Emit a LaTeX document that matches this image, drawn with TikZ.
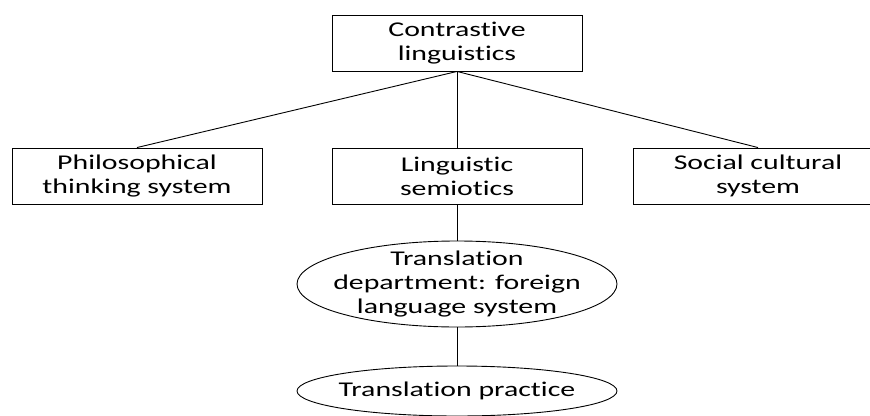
\documentclass[tikz,border=0pt]{standalone}
\usepackage{fontspec}
\setmainfont{Carlito}[FakeStretch=1.42,Ligatures=NoCommon]
\usetikzlibrary{shapes.geometric}

\begin{document}
\begin{tikzpicture}[x=1pt,y=-1pt,font=\fontsize{21}{24}\selectfont,line width=0.9pt,
  termbox/.style={draw,align=center,minimum width=250pt,minimum height=56pt,inner sep=0pt},
  termoval/.style={draw,ellipse,align=center,minimum width=320pt,inner xsep=-14pt,inner ysep=-10pt}]

\useasboundingbox (0,0) rectangle (870,415);
\clip (0,0) rectangle (870,415);

\node[termbox] (cl) at (457,43) {Contrastive\\linguistics};
\node[termbox] (pts) at (137,176) {Philosophical\\thinking system};
\node[termbox] (ls) at (457,176) {Linguistic\\semiotics};
\node[termbox] (scs) at (758,176) {Social cultural\\system};

\node[termoval,minimum height=86pt] (tdf) at (457,284) {Translation\\department: foreign\\language system};
\node[termoval,minimum height=50pt] (tp) at (457,391) {Translation practice};

\draw (cl.south) -- (pts.north);
\draw (cl.south) -- (ls.north);
\draw (cl.south) -- (scs.north);
\draw (ls.south) -- (tdf.north);
\draw (tdf.south) -- (tp.north);

\end{tikzpicture}
\end{document}
